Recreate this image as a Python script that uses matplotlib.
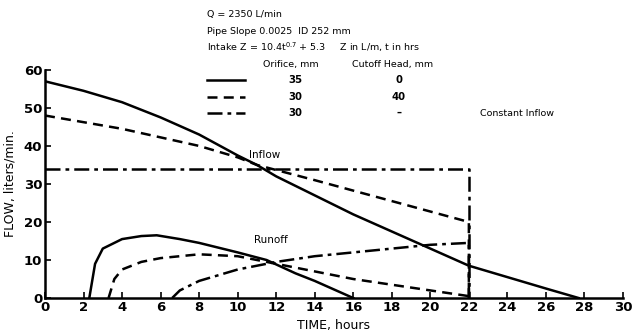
import matplotlib
matplotlib.use("Agg")
from matplotlib import pyplot
from matplotlib.lines import Line2D

# inflow curves
in_orifice35_t = [0, 2, 4, 6, 8, 10, 11, 12, 14, 16, 18, 20, 22, 24, 26, 27.7]
in_orifice35_q = [57, 54.5, 51.5, 47.5, 43, 37.5, 35, 32, 27, 22, 17.5, 13, 8.5, 5.5, 2.5, 0]
in_orifice30_t = [0, 4, 8, 10, 11, 14, 18, 22, 22]
in_orifice30_q = [48, 44.5, 40, 37, 35, 31, 25.5, 20, 0]
in_constant_t = [0, 22, 22]
in_constant_q = [34, 34, 0]

# runoff curves
ro_orifice35_t = [2.3, 2.6, 3, 4, 5, 5.8, 7, 8, 10, 11.5, 13, 14, 16]
ro_orifice35_q = [0, 9, 13, 15.5, 16.3, 16.5, 15.5, 14.5, 12, 10, 6.5, 4.5, 0]
ro_orifice30_t = [3.3, 3.6, 4, 5, 6, 8, 10, 12, 14, 16, 18, 20, 22]
ro_orifice30_q = [0, 5, 7.5, 9.5, 10.5, 11.5, 11, 9, 7, 5, 3.5, 2, 0.5]
ro_constant_t = [6.6, 7, 8, 10, 12, 14, 16, 18, 20, 22, 22]
ro_constant_q = [0, 2, 4.5, 7.5, 9.5, 11, 12, 13, 14, 14.5, 0]

x_ticks = list(range(0, 31, 2))
y_ticks = [0, 10, 20, 30, 40, 50, 60]

styles = {"solid": "-", "dashed": (0, (4, 2.5)), "dashdot": (0, (6, 2, 1.5, 2))}

fig = pyplot.figure(figsize=(6.38, 3.36), dpi=100)
ax = fig.add_axes([0.0705, 0.113, 0.906, 0.679])

lw = 1.8
ax.plot(in_orifice35_t, in_orifice35_q, color="k", lw=lw, linestyle=styles["solid"])
ax.plot(in_orifice30_t, in_orifice30_q, color="k", lw=lw, linestyle=styles["dashed"])
ax.plot(in_constant_t, in_constant_q, color="k", lw=lw, linestyle=styles["dashdot"])
ax.plot(ro_orifice35_t, ro_orifice35_q, color="k", lw=lw, linestyle=styles["solid"])
ax.plot(ro_orifice30_t, ro_orifice30_q, color="k", lw=lw, linestyle=styles["dashed"])
ax.plot(ro_constant_t, ro_constant_q, color="k", lw=lw, linestyle=styles["dashdot"])

ax.set_xlim(0, 30)
ax.set_ylim(0, 60)
ax.set_xticks(x_ticks)
ax.set_yticks(y_ticks)
ax.tick_params(direction="in", length=4, width=1.2, labelsize=9.5, pad=2)
for lab in ax.get_xticklabels() + ax.get_yticklabels():
    lab.set_fontweight("bold")
ax.spines["top"].set_visible(False)
ax.spines["right"].set_visible(False)
ax.spines["left"].set_linewidth(1.8)
ax.spines["bottom"].set_linewidth(1.8)

ax.set_xlabel("TIME, hours", fontsize=9, labelpad=4)
ax.set_ylabel("FLOW, liters/min.", fontsize=9, labelpad=5)

ax.text(11.4, 37.5, "Inflow", fontsize=7.5, ha="center", va="center")
ax.text(11.7, 15.3, "Runoff", fontsize=7.5, ha="center", va="center")

# header notes
fs = 6.8
fig.text(207 / 638, 1 - 15 / 336, "Q = 2350 L/min", fontsize=fs, va="center")
fig.text(207 / 638, 1 - 31 / 336, "Pipe Slope 0.0025  ID 252 mm", fontsize=fs, va="center")
fig.text(207 / 638, 1 - 47 / 336, "Intake Z = 10.4t$^{0.7}$ + 5.3     Z in L/m, t in hrs",
         fontsize=fs, va="center")
fig.text(263 / 638, 1 - 64 / 336, "Orifice, mm", fontsize=fs, va="center")
fig.text(352 / 638, 1 - 64 / 336, "Cutoff Head, mm", fontsize=fs, va="center")

orifice_vals = ["35", "30", "30"]
cutoff_vals = ["0", "40", "\u2013"]
rows_y = [80, 97, 113]
for key, ori, cut, ypix in zip(["solid", "dashed", "dashdot"], orifice_vals, cutoff_vals, rows_y):
    yf = 1 - ypix / 336
    fig.add_artist(Line2D([207 / 638, 245 / 638], [yf, yf], color="k", lw=lw,
                          linestyle=styles[key], transform=fig.transFigure))
    fig.text(295 / 638, yf, ori, fontsize=fs + 0.5, va="center", ha="center", fontweight="bold")
    fig.text(399 / 638, yf, cut, fontsize=fs + 0.5, va="center", ha="center", fontweight="bold")
fig.text(480 / 638, 1 - 113 / 336, "Constant Inflow", fontsize=fs, va="center")

pyplot.savefig("out.png", dpi=100)
